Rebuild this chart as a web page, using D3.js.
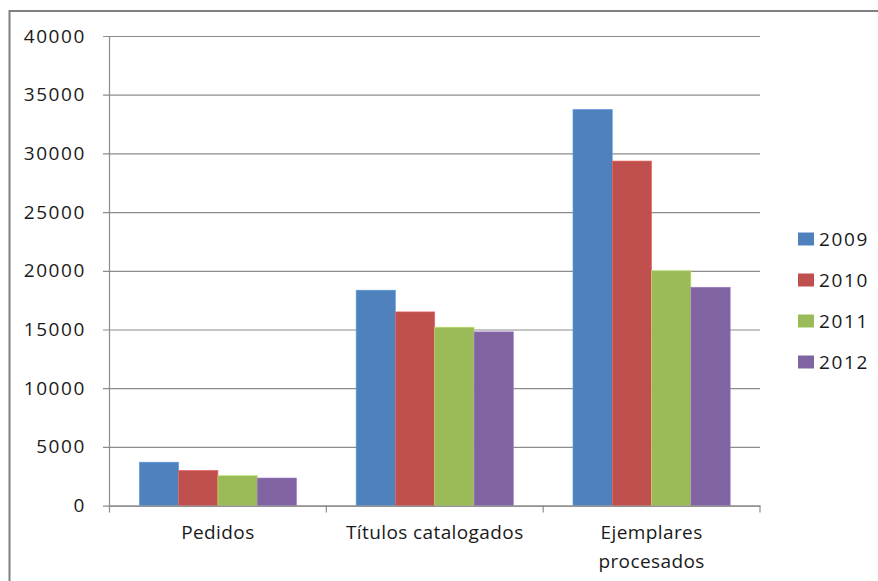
<!DOCTYPE html>
<html><head><meta charset="utf-8">
<script src="https://cdn.jsdelivr.net/npm/d3@7"></script>
<style>
html,body{margin:0;padding:0;background:#fff;}
svg{display:block;}
text{font-family:"Open Sans",sans-serif;fill:#1a1a1a;}
</style></head>
<body><svg id="c" width="878" height="581"></svg>
<script>
const categories = ["Pedidos", "Títulos catalogados", "Ejemplares\nprocesados"];
const years = ["2009", "2010", "2011", "2012"];
const v2009 = [3700, 18350, 33750];
const v2010 = [3000, 16500, 29350];
const v2011 = [2550, 15200, 20000];
const v2012 = [2350, 14800, 18600];
const yTicks = [0, 5000, 10000, 15000, 20000, 25000, 30000, 35000, 40000];
const colors = ["#4F81BD", "#C0504D", "#9BBB59", "#8064A2"];
const series = [v2009, v2010, v2011, v2012];

const svg = d3.select("#c");
const L = 109.5, R = 760, T = 36, B = 505.6;

// outer frame
svg.append("rect").attr("x", 9.5).attr("y", 11).attr("width", 900).attr("height", 600)
  .attr("fill", "none").attr("stroke", "#7f7f7f").attr("stroke-width", 2);

const y = d3.scaleLinear().domain([0, 40000]).range([B, T]);
const x0 = d3.scaleBand().domain(categories).range([L, R]).padding(0);
const x1 = d3.scaleBand().domain(years).range([0, x0.bandwidth()]).paddingInner(0).paddingOuter(0.758);

// gridlines + labels
const ga = svg.append("g").attr("transform", `translate(103,0)`)
  .call(d3.axisLeft(y).tickValues(yTicks).tickSize(-(R - 103)).tickPadding(17).tickFormat(d3.format("d")));
ga.select(".domain").remove();
ga.selectAll(".tick line").attr("stroke", "#8c8c8c").attr("stroke-width", 1.2);
ga.selectAll(".tick text").style("font-size", "19px").style("letter-spacing", "1.6px").attr("fill", "#1a1a1a");

// bars
const g = svg.append("g");
categories.forEach((c, ci) => {
  series.forEach((s, si) => {
    g.append("rect")
      .attr("x", x0(c) + x1(years[si]))
      .attr("y", y(s[ci]))
      .attr("width", x1.bandwidth())
      .attr("height", B - y(s[ci]))
      .attr("fill", colors[si])
      .attr("stroke", d3.color(colors[si]).brighter(0.6))
      .attr("stroke-width", 0.6);
  });
});

// y axis line
svg.append("line").attr("x1", L).attr("x2", L).attr("y1", T).attr("y2", B + 0.5)
  .attr("stroke", "#8c8c8c").attr("stroke-width", 1.2);

// x axis
const xa = svg.append("g").attr("transform", `translate(0,${B})`)
  .call(d3.axisBottom(x0).tickSize(0).tickPadding(20));
xa.select(".domain").attr("stroke", "#8c8c8c").attr("stroke-width", 1.2);
xa.selectAll(".tick text").style("font-size", "19px").style("letter-spacing", "0.4px")
  .each(function(d) {
    const t = d3.select(this);
    const lines = d.split("\n");
    t.text(null);
    lines.forEach((ln, i) => {
      t.append("tspan").attr("x", 0).attr("dy", i === 0 ? "0.71em" : "1.5em").text(ln);
    });
  });
// boundary ticks
const bounds = categories.map(c => x0(c)).concat([R]);
svg.append("g").selectAll("line").data(bounds).join("line")
  .attr("x1", d => d).attr("x2", d => d).attr("y1", B).attr("y2", B + 7)
  .attr("stroke", "#8c8c8c").attr("stroke-width", 1.2);

// legend
const lg = svg.append("g").attr("transform", "translate(798,239)");
years.forEach((yr, i) => {
  const row = lg.append("g").attr("transform", `translate(0,${i * 41})`);
  row.append("rect").attr("x", 0).attr("y", -6.5).attr("width", 16).attr("height", 13).attr("fill", colors[i]);
  row.append("text").attr("x", 21).attr("y", 0).attr("dy", "0.36em").style("font-size", "19px")
    .style("letter-spacing", "1.6px").text(yr);
});
</script></body></html>
